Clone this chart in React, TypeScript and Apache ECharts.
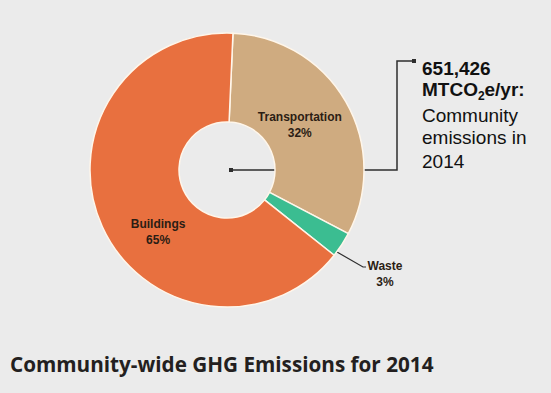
import React, { useEffect, useRef } from "react";
import * as echarts from "echarts";

const categories = ["Transportation", "Waste", "Buildings"];
const shares = [32, 3, 65];
const colors = ["#cfab80", "#3bbd91", "#e8703f"];
const titleText = "Community-wide GHG Emissions for 2014";
const totalText = "651,426";

export default function App() {
  const ref = useRef<HTMLDivElement>(null);
  useEffect(() => {
    document.body.style.margin = "0";
    const chart = echarts.init(ref.current!, null, { renderer: "svg" });
    const labelColor = "#2b1d14";
    const ann = "#2e2e2e";
    chart.setOption({
      animation: false,
      backgroundColor: "#ebebeb",
      title: {
        text: titleText,
        left: 5,
        top: 348,
        textStyle: { fontFamily: "Open Sans", fontWeight: 700, fontSize: 20.7, color: "#231f20" },
      },
      graphic: [
        {
          type: "polyline",
          z: 0,
          shape: { points: [[231, 170], [397, 170], [397, 61], [413, 61]] },
          style: { stroke: ann, lineWidth: 1.5, fill: "none" },
        },
        { type: "rect", z: 0, shape: { x: 229, y: 168, width: 4, height: 4 }, style: { fill: ann } },
        { type: "rect", z: 0, shape: { x: 412, y: 59, width: 4, height: 4 }, style: { fill: ann } },
        {
          type: "text", x: 422, y: 68.4,
          style: { text: totalText, font: "bold 19px 'Liberation Sans', Arial", fill: "#111", verticalAlign: "middle" },
        },
        {
          type: "text", x: 422, y: 89.1,
          style: { text: "MTCO", font: "bold 19px 'Liberation Sans', Arial", fill: "#111", verticalAlign: "middle" },
        },
        {
          type: "text", x: 478, y: 96,
          style: { text: "2", font: "bold 12px 'Liberation Sans', Arial", fill: "#111", verticalAlign: "middle" },
        },
        {
          type: "text", x: 484.5, y: 89.1,
          style: { text: "e/yr:", font: "bold 19px 'Liberation Sans', Arial", fill: "#111", verticalAlign: "middle" },
        },
        {
          type: "text", x: 422, y: 115.1,
          style: { text: "Community", font: "19px 'Liberation Sans', Arial", fill: "#111", verticalAlign: "middle" },
        },
        {
          type: "text", x: 422, y: 137,
          style: { text: "emissions in", font: "19px 'Liberation Sans', Arial", fill: "#111", verticalAlign: "middle" },
        },
        {
          type: "text", x: 422, y: 161.4,
          style: { text: "2014", font: "19px 'Liberation Sans', Arial", fill: "#111", verticalAlign: "middle" },
        },
      ],
      series: [
        {
          type: "pie",
          z: 2,
          center: [227, 170],
          radius: [48, 137],
          startAngle: 87.5,
          clockwise: true,
          avoidLabelOverlap: false,
          itemStyle: { borderColor: "#fff6ea", borderWidth: 1.5 },
          label: {
            show: true,
            position: "inside",
            formatter: "{b}\n{c}%",
            fontFamily: "'Liberation Sans', Arial",
            fontWeight: "bold",
            fontSize: 12,
            lineHeight: 16,
            color: labelColor,
          },
          labelLine: { show: false },
          labelLayout: (p: any) => {
            if (p.dataIndex === 1) {
              return {
                x: 385,
                y: 274,
                align: "center",
                verticalAlign: "middle",
                labelLinePoints: [[337, 252], [363, 267], [366, 267]],
              };
            }
            if (p.dataIndex === 0) return { dx: -10, dy: 3 };
            return { dx: 18, dy: 22 };
          },
          data: categories.map((name, i) => {
            const item: any = { name, value: shares[i], itemStyle: { color: colors[i] } };
            if (name === "Waste") {
              item.label = { position: "outside" };
              item.labelLine = { show: true, length: 20, length2: 4, lineStyle: { color: ann, width: 1.2 } };
            }
            return item;
          }),
        },
      ],
    });
    return () => chart.dispose();
  }, []);
  return <div ref={ref} style={{ width: 551, height: 393 }} />;
}
